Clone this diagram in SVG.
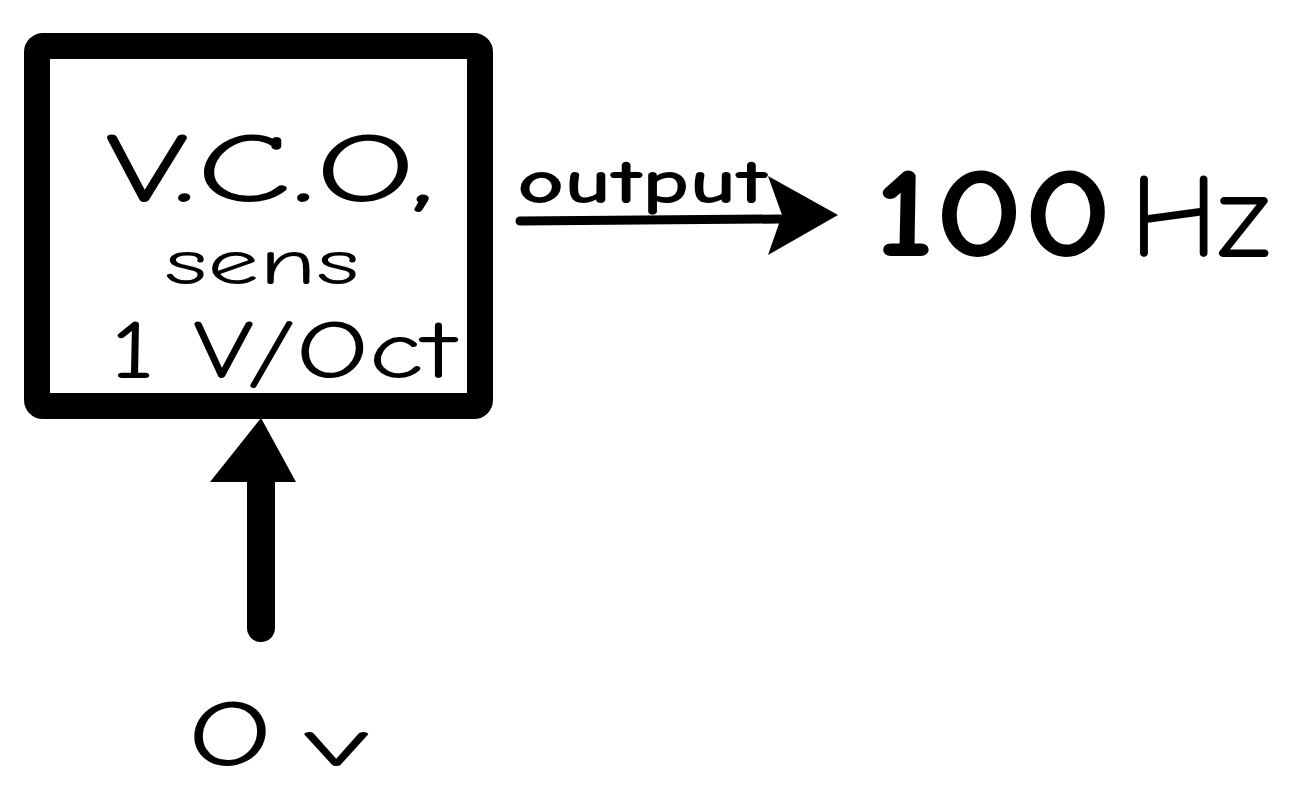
<svg xmlns="http://www.w3.org/2000/svg" width="1308" height="795" viewBox="0 0 1308 795">
<style>
.t{font-family:"Comic Neue","Liberation Sans",sans-serif;fill:#000}
.c{stroke:#000;fill:none;stroke-linecap:round}
</style>
<rect width="1308" height="795" fill="#fff"/>
<g id="vco">
<rect x="37" y="46" width="443" height="360" fill="none" stroke="#000" stroke-width="26" rx="6"/>
<text class="t" x="270" y="202" font-size="100" text-anchor="middle" textLength="330" lengthAdjust="spacingAndGlyphs">V.C.O,</text>
<text class="t" x="262" y="284" font-size="64" text-anchor="middle" textLength="195" lengthAdjust="spacingAndGlyphs">sens</text>
<text class="t" x="283" y="378" font-size="82" text-anchor="middle" textLength="345" lengthAdjust="spacingAndGlyphs">1 V/Oct</text>
</g>
<g id="connectors">
<line class="c" x1="520" y1="221" x2="780" y2="219" stroke-width="9"/>
<polygon points="768,176 838,215 768,255 782,215" fill="#000"/>
<line class="c" x1="261" y1="628" x2="261" y2="470" stroke-width="28" stroke-linecap="butt"/>
<polygon points="261,418 296,482 210,482" fill="#000"/>
</g>
<g id="label-output">
<text class="t" x="517" y="203" font-size="62" font-weight="bold" textLength="250" lengthAdjust="spacingAndGlyphs">output</text>
</g>
<g id="label-100hz">
<text class="t" x="874" y="256" font-size="130" font-weight="bold" textLength="238" lengthAdjust="spacingAndGlyphs">100</text>
<text class="t" x="1130" y="256" font-size="120" textLength="140" lengthAdjust="spacingAndGlyphs">Hz</text>
</g>
<g id="label-0v">
<text class="t" x="188" y="766" font-size="96" textLength="84" lengthAdjust="spacingAndGlyphs">O</text>
<text class="t" x="305" y="766" font-size="68" textLength="64" lengthAdjust="spacingAndGlyphs">v</text>
</g>
</svg>
